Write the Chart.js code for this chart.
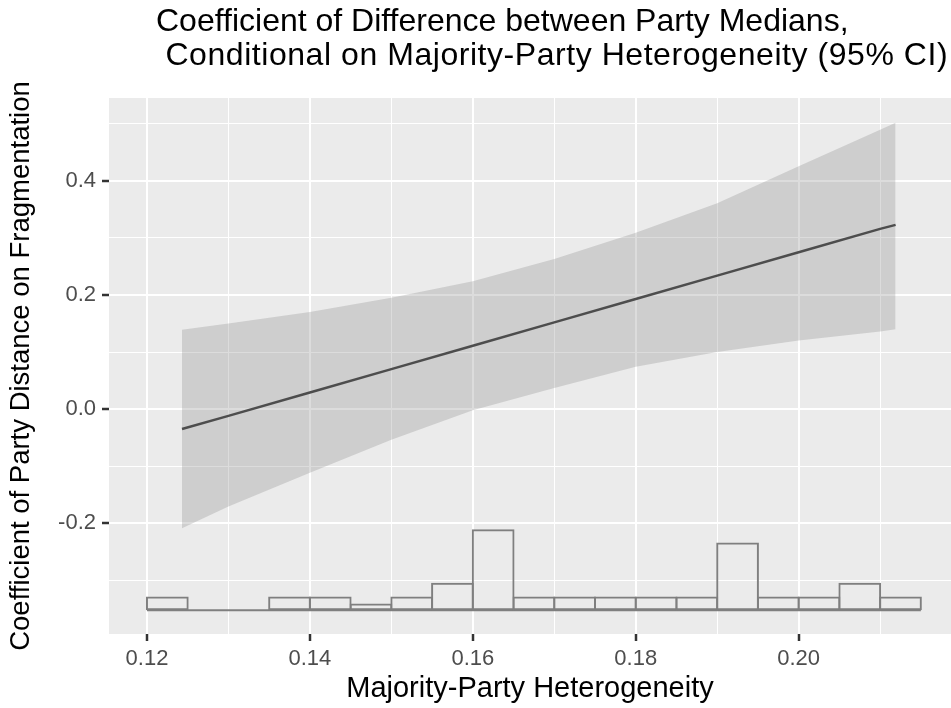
<!DOCTYPE html>
<html>
<head>
<meta charset="utf-8">
<title>Coefficient of Difference between Party Medians</title>
<script src="https://cdn.jsdelivr.net/npm/chart.js@4.4.1/dist/chart.umd.min.js"></script>
<style>
  html, body { margin: 0; padding: 0; background: #ffffff; }
  #wrap { width: 951px; height: 708px; }
</style>
</head>
<body>
<div id="wrap"><canvas id="chart" width="951" height="708"></canvas></div>
<script>
/* ggplot-style marginal effect plot: fitted line, 95% CI ribbon,
   and a histogram of the moderator along the bottom. */

/* ── Data ────────────────────────────────────────────────── */
const fitX    = [0.1243, 0.13, 0.14, 0.15, 0.16, 0.17, 0.18, 0.19, 0.20, 0.21, 0.2119];
const fitY    = [-0.035, -0.012, 0.029, 0.070, 0.111, 0.152, 0.193, 0.234, 0.275, 0.316, 0.323];
const ciLower = [-0.209, -0.171, -0.112, -0.054, -0.002, 0.037, 0.074, 0.100, 0.120, 0.136, 0.140];
const ciUpper = [0.139, 0.150, 0.170, 0.195, 0.224, 0.263, 0.309, 0.361, 0.426, 0.490, 0.502];

/* histogram bins (0.005 wide), drawn in y-axis units */
const histCenters = [0.1225, 0.1275, 0.1325, 0.1375, 0.1425, 0.1475, 0.1525, 0.1575, 0.1625, 0.1675,
                     0.1725, 0.1775, 0.1825, 0.1875, 0.1925, 0.1975, 0.2025, 0.2075, 0.2125];
const histTop = [-0.329, -0.353, -0.353, -0.329, -0.329, -0.341, -0.329, -0.305, -0.211, -0.329,
                 -0.329, -0.329, -0.329, -0.329, -0.234, -0.329, -0.329, -0.305, -0.329];
const histBase = -0.353;
const histRange = [0.12, 0.215];

const xTickLabels = ['0.12', '0.14', '0.16', '0.18', '0.20'];
const yTickLabels = ['-0.2', '0.0', '0.2', '0.4'];

const titleLines = ['Coefficient of Difference between Party Medians,',
                    ' Conditional on Majority-Party Heterogeneity (95% CI)'];
const xTitle = 'Majority-Party Heterogeneity';
const yTitle = 'Coefficient of Party Distance on Fragmentation';

/* ── Theme ───────────────────────────────────────────────── */
const FONT     = '"Liberation Sans", Arial, Helvetica, sans-serif';
const PANEL    = '#EBEBEB';
const TICK_TXT = '#4D4D4D';
const TICK_CLR = '#333333';
const HIST_CLR = '#7F7F7F';

const fmtX = v => (Math.round(v * 100) / 100).toFixed(2);
const fmtY = v => (Math.round(v * 10) / 10).toFixed(1);
const majorX = v => xTickLabels.includes(fmtX(v));
const majorY = v => yTickLabels.includes(fmtY(v));

const pts = (xs, ys) => xs.map((x, i) => ({ x, y: ys[i] }));

/* panel background + two-line title */
const ggTheme = {
  id: 'ggTheme',
  beforeDraw(chart) {
    const { ctx, chartArea: a } = chart;
    ctx.save();
    ctx.fillStyle = '#ffffff';
    ctx.fillRect(0, 0, chart.width, chart.height);
    ctx.fillStyle = PANEL;
    ctx.fillRect(a.left, a.top, a.right - a.left, a.bottom - a.top);
    ctx.restore();
  },
  afterDraw(chart) {
    const { ctx } = chart;
    ctx.save();
    ctx.fillStyle = '#000000';
    ctx.font = '32px ' + FONT;
    ctx.textBaseline = 'alphabetic';
    ctx.textAlign = 'left';
    ctx.fillText(titleLines[0], 156, 31);
    ctx.letterSpacing = '0.55px';
    ctx.fillText(titleLines[1], 156, 65);
    ctx.restore();
  }
};

new Chart(document.getElementById('chart'), {
  type: 'bar',
  data: {
    datasets: [
      {
        type: 'bar',
        label: 'Histogram',
        data: histCenters.map((x, i) => ({ x, y: [histBase, histTop[i]] })),
        backgroundColor: 'rgba(0,0,0,0)',
        borderColor: HIST_CLR,
        borderWidth: 2,
        borderSkipped: false,
        barPercentage: 1.049,
        categoryPercentage: 1,
        order: 1,
      },
      {
        type: 'line',
        label: 'Histogram base',
        data: pts(histRange, [histBase, histBase]),
        borderColor: HIST_CLR,
        borderWidth: 2.2,
        pointRadius: 0,
        fill: false,
        order: 2,
      },
      {
        type: 'line',
        label: 'Estimate',
        data: pts(fitX, fitY),
        borderColor: '#4D4D4D',
        borderWidth: 2.5,
        pointRadius: 0,
        tension: 0,
        fill: false,
        order: 3,
      },
      {
        type: 'line',
        label: 'Lower',
        data: pts(fitX, ciLower),
        borderColor: 'rgba(0,0,0,0)',
        borderWidth: 0,
        pointRadius: 0,
        tension: 0,
        fill: false,
        order: 4,
      },
      {
        type: 'line',
        label: 'Upper',
        data: pts(fitX, ciUpper),
        borderColor: 'rgba(0,0,0,0)',
        borderWidth: 0,
        pointRadius: 0,
        tension: 0,
        fill: '-1',
        backgroundColor: 'rgba(140,140,140,0.3)',
        order: 5,
      },
    ],
  },
  options: {
    responsive: false,
    animation: false,
    events: [],
    layout: { padding: { top: 98, right: 0, bottom: 0, left: 0 } },
    plugins: {
      legend: { display: false },
      tooltip: { enabled: false },
      title: { display: false },
    },
    scales: {
      x: {
        type: 'linear',
        offset: false,
        min: 0.11534,
        max: 0.2187,
        border: { display: false },
        grid: {
          offset: false,
          color: '#FFFFFF',
          lineWidth: c => (c.tick && majorX(c.tick.value) ? 2 : 1),
          tickLength: 7,
          tickWidth: 2.5,
          tickColor: c => (c.tick && majorX(c.tick.value) ? TICK_CLR : 'rgba(0,0,0,0)'),
        },
        ticks: {
          stepSize: 0.01,
          includeBounds: false,
          autoSkip: false,
          maxRotation: 0,
          padding: 5,
          color: TICK_TXT,
          font: { family: FONT, size: 22 },
          callback: v => (majorX(v) ? fmtX(v) : ''),
        },
        title: {
          display: true,
          text: xTitle,
          color: '#000000',
          font: { family: FONT, size: 29 },
          padding: { top: 0, bottom: 2 },
        },
        afterFit: s => { s.height = 74; },
      },
      y: {
        type: 'linear',
        min: -0.3947,
        max: 0.5456,
        border: { display: false },
        grid: {
          color: '#FFFFFF',
          lineWidth: c => (c.tick && majorY(c.tick.value) ? 2 : 1),
          tickLength: 7,
          tickWidth: 2.5,
          tickColor: c => (c.tick && majorY(c.tick.value) ? TICK_CLR : 'rgba(0,0,0,0)'),
        },
        ticks: {
          stepSize: 0.1,
          includeBounds: false,
          autoSkip: false,
          padding: 6,
          color: TICK_TXT,
          font: { family: FONT, size: 22 },
          callback: v => (majorY(v) ? fmtY(v) : ''),
        },
        title: {
          display: true,
          text: yTitle,
          color: '#000000',
          font: { family: FONT, size: 27.5 },
          padding: { top: 5, bottom: 0 },
        },
        afterFit: s => { s.width = 109; },
      },
    },
  },
  plugins: [ggTheme],
});
</script>
</body>
</html>
